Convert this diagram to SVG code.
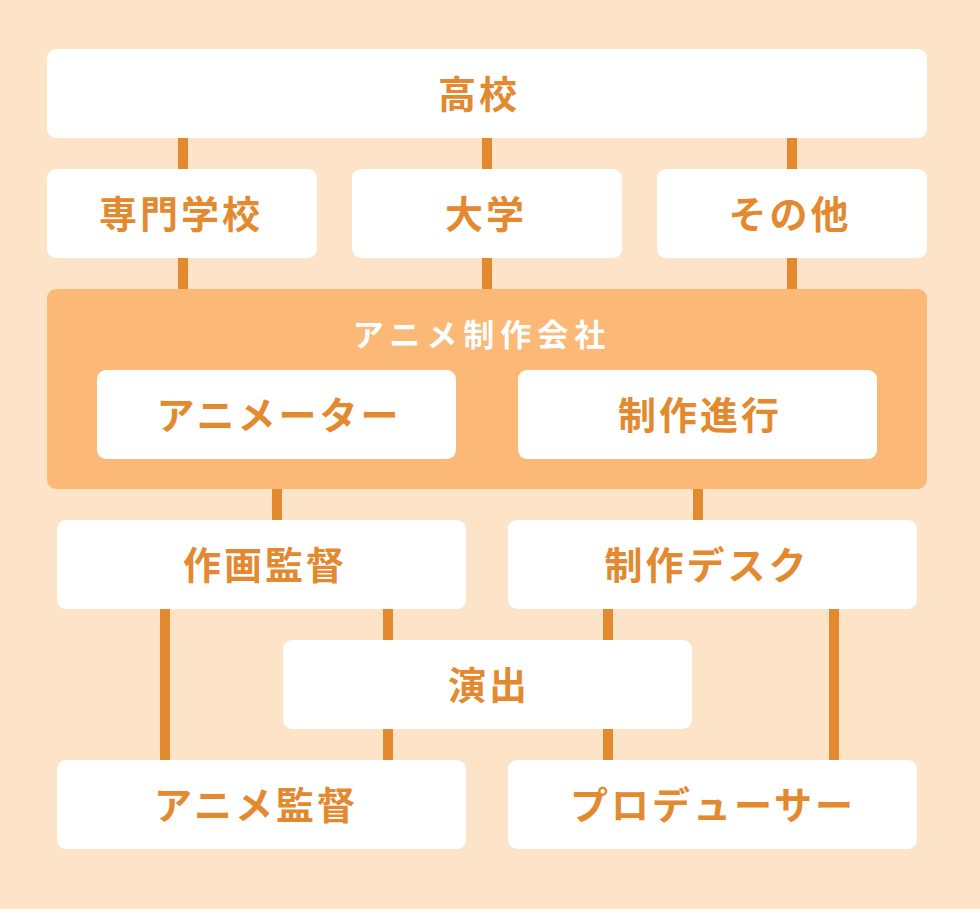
<svg xmlns="http://www.w3.org/2000/svg" width="980" height="909" viewBox="0 0 980 909">
<style>
.box{fill:#FFFFFF}
.lbl{fill:#E3892F;font-family:"Noto Sans CJK JP","Noto Sans CJK SC",sans-serif;font-weight:700;font-size:38px;letter-spacing:3px;text-anchor:middle;dominant-baseline:central}
.title{fill:#FFFFFF;font-family:"Noto Sans CJK JP","Noto Sans CJK SC",sans-serif;font-weight:700;font-size:31px;letter-spacing:6px;text-anchor:middle;dominant-baseline:central}
.c{stroke:#E3892F;stroke-width:10;fill:none}
</style>
<rect x="0" y="0" width="980" height="909" fill="#FDE3C8"/>
<g id="connectors">
<line class="c" x1="183" y1="138" x2="183" y2="169"/>
<line class="c" x1="487" y1="138" x2="487" y2="169"/>
<line class="c" x1="792" y1="138" x2="792" y2="169"/>
<line class="c" x1="183" y1="258" x2="183" y2="289"/>
<line class="c" x1="487" y1="258" x2="487" y2="289"/>
<line class="c" x1="792" y1="258" x2="792" y2="289"/>
<line class="c" x1="277" y1="459" x2="277" y2="520"/>
<line class="c" x1="698" y1="459" x2="698" y2="520"/>
<line class="c" x1="165" y1="609" x2="165" y2="760"/>
<line class="c" x1="388" y1="609" x2="388" y2="640"/>
<line class="c" x1="388" y1="729" x2="388" y2="760"/>
<line class="c" x1="608" y1="609" x2="608" y2="640"/>
<line class="c" x1="608" y1="729" x2="608" y2="760"/>
<line class="c" x1="834" y1="609" x2="834" y2="760"/>
</g>
<g id="koukou"><rect class="box" x="47" y="49" width="880" height="89" rx="9"/><text class="lbl" x="479" y="91">高校</text></g>
<g id="senmon"><rect class="box" x="47" y="169" width="270" height="89" rx="9"/><text class="lbl" x="181" y="211">専門学校</text></g>
<g id="daigaku"><rect class="box" x="352" y="169" width="270" height="89" rx="9"/><text class="lbl" x="486" y="211">大学</text></g>
<g id="sonota"><rect class="box" x="657" y="169" width="270" height="89" rx="9"/><text class="lbl" x="790" y="211">その他</text></g>
<g id="company"><rect x="47" y="289" width="880" height="200" rx="9" fill="#FBB876"/><text class="title" x="482" y="332">アニメ制作会社</text></g>
<g id="animator"><rect class="box" x="97" y="370" width="359" height="89" rx="9"/><text class="lbl" x="279" y="412">アニメーター</text></g>
<g id="seisakushinkou"><rect class="box" x="518" y="370" width="359" height="89" rx="9"/><text class="lbl" x="700" y="412">制作進行</text></g>
<g id="sakuga"><rect class="box" x="57" y="520" width="409" height="89" rx="9"/><text class="lbl" x="265" y="562">作画監督</text></g>
<g id="desk"><rect class="box" x="508" y="520" width="409" height="89" rx="9"/><text class="lbl" x="707" y="562">制作デスク</text></g>
<g id="enshutsu"><rect class="box" x="283" y="640" width="409" height="89" rx="9"/><text class="lbl" x="489" y="682">演出</text></g>
<g id="kantoku"><rect class="box" x="57" y="760" width="409" height="89" rx="9"/><text class="lbl" x="256" y="802">アニメ監督</text></g>
<g id="producer"><rect class="box" x="508" y="760" width="409" height="89" rx="9"/><text class="lbl" x="713" y="802">プロデューサー</text></g>
</svg>
